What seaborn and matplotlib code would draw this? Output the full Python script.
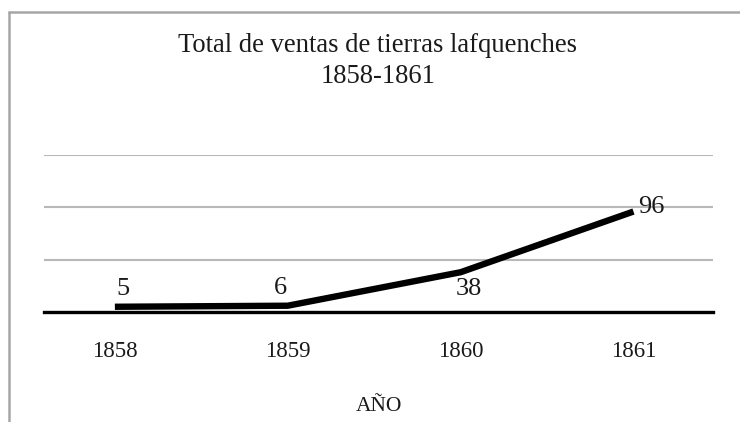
import matplotlib
matplotlib.use("Agg")
import matplotlib.pyplot as plt
import seaborn as sns
import pandas as pd
from matplotlib.lines import Line2D

years = ["1858", "1859", "1860", "1861"]
ventas = [5, 6, 38, 96]
title_text = "Total de ventas de tierras lafquenches\n1858-1861"
x_label = "AÑO"
y_gridlines = [0, 50, 100, 150]

sns.set_theme(style="white")
plt.rcParams["font.family"] = ["Liberation Serif", "DejaVu Serif"]

df = pd.DataFrame({"year": years, "ventas": ventas})

fig = plt.figure(figsize=(7.4, 4.22), dpi=100)
ax = fig.add_axes([44 / 740, 1 - 312 / 422, (713 - 44) / 740, (312 - 155) / 422])

sns.lineplot(data=df, x="year", y="ventas", ax=ax, color="black", linewidth=4.6,
             solid_capstyle="butt", zorder=4)

ax.set_ylim(0, 150)
ax.set_xlim(-0.41, 3.46)
ax.set_yticks(y_gridlines)
ax.set_yticklabels([])
ax.tick_params(axis="y", length=0)
ax.tick_params(axis="x", length=0, pad=21, labelsize=16.5, colors="#1a1a1a")
ax.yaxis.grid(True, color="#b8b8b8", linewidth=1.5)
ax.xaxis.grid(False)
for s in ["left", "right", "top"]:
    ax.spines[s].set_visible(False)
ax.spines["bottom"].set_color("black")
ax.spines["bottom"].set_linewidth(2.4)
ax.spines["bottom"].set_zorder(3)
ax.set_ylabel("")
ax.set_xlabel(x_label, fontsize=15.5, labelpad=25, color="#1a1a1a")

offsets = [(6, 13), (-5, 13), (6, -12), (13, 3)]
for i, (yr, v) in enumerate(zip(years, ventas)):
    ax.annotate(str(v), xy=(i, v), xytext=offsets[i], textcoords="offset points",
                ha="center", va="center", fontsize=19, color="#1a1a1a", zorder=5)

fig.text(378 / 740, 1 - 61 / 422, title_text, ha="center", va="center",
         fontsize=19.2, linespacing=1.33, color="#1a1a1a")

# chart frame
fig.add_artist(Line2D([9 / 740, 1.0], [1 - 12 / 422, 1 - 12 / 422],
                      transform=fig.transFigure, color="#a6a6a6", linewidth=1.8))
fig.add_artist(Line2D([9 / 740, 9 / 740], [0.0, 1 - 12 / 422],
                      transform=fig.transFigure, color="#a6a6a6", linewidth=1.8))

fig.savefig("out.png", dpi=100)
